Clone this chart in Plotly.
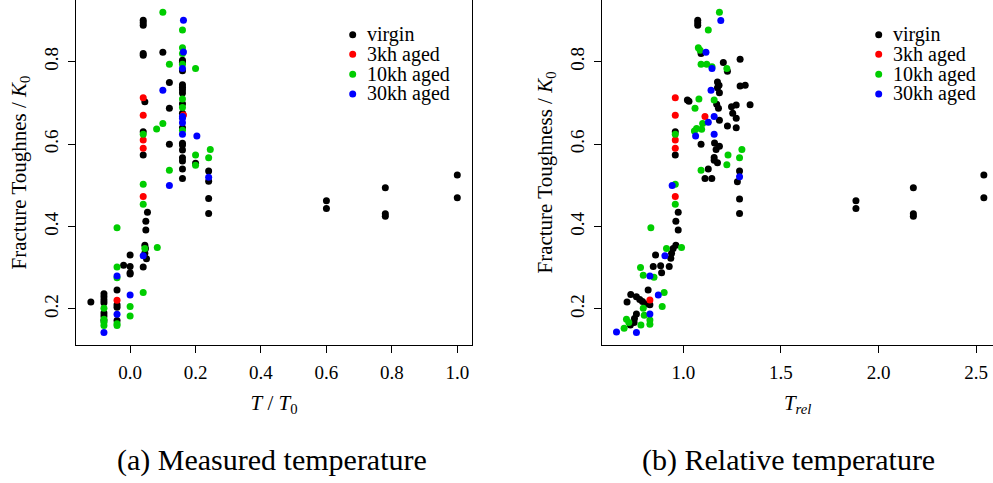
import plotly.graph_objects as go

# ---------------- data ----------------
SERIES = ["virgin", "3kh aged", "10kh aged", "30kh aged"]
COLORS = ["#000000", "#FF0000", "#00CD00", "#0000FF"]

# panel (a): measured temperature T/T0
A_VIRGIN_X = [-0.12,
              -0.08, -0.08, -0.08, -0.08, -0.08, -0.08, -0.08,
              -0.04, -0.04, -0.04, -0.04,
              -0.02,
              0.0, 0.0, 0.0, 0.0,
              0.04, 0.04, 0.04, 0.04, 0.04, 0.04, 0.04, 0.04,
              0.045, 0.045, 0.045,
              0.053, 0.048, 0.048, 0.047, 0.05,
              0.10,
              0.12, 0.12, 0.12,
              0.16, 0.16, 0.16, 0.16, 0.16, 0.16, 0.16, 0.16, 0.16, 0.16, 0.16, 0.16, 0.16, 0.16, 0.16, 0.16, 0.16,
              0.20,
              0.24, 0.24, 0.24, 0.24,
              0.60, 0.60, 0.78, 0.78, 0.78, 1.0, 1.0]
A_VIRGIN_Y = [0.217,
              0.237, 0.230, 0.222, 0.215, 0.190, 0.183, 0.172,
              0.246, 0.210, 0.204, 0.172,
              0.306,
              0.331, 0.303, 0.288, 0.285,
              0.901, 0.895, 0.889, 0.820, 0.816, 0.630, 0.574, 0.302,
              0.703, 0.335, 0.355,
              0.435, 0.413, 0.392, 0.347, 0.322,
              0.823,
              0.750, 0.687, 0.600,
              0.804, 0.799, 0.778, 0.744, 0.738, 0.732, 0.724, 0.698, 0.675, 0.640, 0.602, 0.598, 0.586, 0.567, 0.559, 0.540, 0.517,
              0.554,
              0.535, 0.510, 0.468, 0.432,
              0.463, 0.444, 0.494, 0.431, 0.425, 0.525, 0.470]
A_3KH_X = [-0.04, 0.04, 0.04, 0.04, 0.04, 0.04, 0.163]
A_3KH_Y = [0.221, 0.713, 0.670, 0.610, 0.590, 0.473, 0.671]
A_10KH_X = [-0.08, -0.08, -0.08, -0.08,
            -0.04, -0.04, -0.04, -0.04, -0.04,
            0.0, 0.0,
            0.04, 0.04, 0.04, 0.04,
            0.045,
            0.081, 0.083,
            0.10, 0.10,
            0.12, 0.12,
            0.16, 0.16, 0.16, 0.16, 0.16, 0.16, 0.16,
            0.20, 0.20, 0.20,
            0.245, 0.24]
A_10KH_Y = [0.202, 0.175, 0.168, 0.160,
            0.397, 0.302, 0.276, 0.164, 0.160,
            0.206, 0.183,
            0.624, 0.503, 0.454, 0.240,
            0.347,
            0.637, 0.349,
            0.920, 0.650,
            0.794, 0.537,
            0.877, 0.834, 0.820, 0.794, 0.710, 0.689, 0.634,
            0.784, 0.574, 0.549,
            0.587, 0.567]
A_30KH_X = [-0.08, -0.04, -0.04, 0.0, 0.04, 0.10, 0.12,
            0.163, 0.163, 0.16, 0.16, 0.16, 0.16, 0.16, 0.204, 0.24]
A_30KH_Y = [0.143, 0.280, 0.187, 0.234, 0.329, 0.731, 0.500,
            0.901, 0.824, 0.784, 0.667, 0.663, 0.652, 0.624, 0.620, 0.520]

# panel (b): relative temperature T_rel
B_VIRGIN_X = [1.074, 1.074, 1.074, 1.091, 1.205, 1.291, 1.226, 1.175, 1.183, 1.175,
              1.185, 1.291, 1.317, 1.021, 1.029, 1.171, 1.180, 1.247, 1.271, 1.342,
              1.253, 1.271, 1.185, 1.226, 1.271, 0.959, 0.959, 1.091, 1.160, 1.185,
              1.168, 1.158, 1.158, 1.175, 1.128, 1.111, 1.146, 1.288, 1.277, 1.288,
              1.288, 0.974, 0.962, 0.974, 0.962, 0.948, 0.940, 0.936, 0.858, 0.846,
              0.884, 0.928, 0.889, 0.820, 0.731, 0.712, 0.760, 0.777, 0.791, 0.808,
              0.829, 0.760, 0.750, 0.748, 0.729,
              1.884, 1.884, 2.178, 2.178, 2.178, 2.539, 2.539]
B_VIRGIN_Y = [0.901, 0.895, 0.889, 0.820, 0.798, 0.806, 0.777, 0.751, 0.743, 0.737,
              0.725, 0.741, 0.743, 0.707, 0.704, 0.697, 0.687, 0.691, 0.695, 0.696,
              0.675, 0.663, 0.658, 0.644, 0.640, 0.630, 0.574, 0.600, 0.603, 0.595,
              0.587, 0.568, 0.561, 0.555, 0.540, 0.517, 0.517, 0.535, 0.509, 0.467,
              0.432, 0.435, 0.413, 0.392, 0.355, 0.347, 0.335, 0.323, 0.331, 0.303,
              0.305, 0.303, 0.288, 0.246, 0.235, 0.217, 0.230, 0.223, 0.218, 0.212,
              0.210, 0.188, 0.177, 0.167, 0.161,
              0.463, 0.444, 0.494, 0.431, 0.425, 0.525, 0.470]
B_3KH_X = [0.959, 0.959, 1.111, 0.959, 0.959, 0.959, 0.829]
B_3KH_Y = [0.713, 0.670, 0.667, 0.610, 0.590, 0.473, 0.222]
B_10KH_X = [1.185, 1.128, 1.077, 1.086, 1.091, 1.120, 1.147, 1.223, 1.080, 1.060,
            1.158, 1.099, 1.068, 1.094, 1.057, 0.959, 1.229, 1.223, 1.288, 1.300,
            1.091, 0.959, 0.959, 0.834, 0.914, 0.991, 0.781, 0.795, 0.850, 0.902,
            0.892, 0.795, 0.709, 0.721, 0.697, 0.783, 0.829, 0.829, 0.800]
B_10KH_Y = [0.920, 0.877, 0.834, 0.828, 0.794, 0.794, 0.788, 0.784, 0.710, 0.687,
            0.707, 0.650, 0.638, 0.636, 0.632, 0.624, 0.574, 0.550, 0.567, 0.587,
            0.537, 0.503, 0.454, 0.397, 0.347, 0.349, 0.301, 0.282, 0.277, 0.240,
            0.206, 0.202, 0.175, 0.167, 0.153, 0.161, 0.173, 0.163, 0.185]
B_30KH_X = [1.192, 1.116, 1.147, 1.142, 1.158, 1.128, 1.063, 1.158, 1.288, 0.943,
            0.906, 0.829, 0.872, 0.829, 0.658, 0.760]
B_30KH_Y = [0.900, 0.823, 0.784, 0.731, 0.667, 0.653, 0.620, 0.624, 0.521, 0.500,
            0.329, 0.280, 0.234, 0.188, 0.144, 0.143]

A_X = [A_VIRGIN_X, A_3KH_X, A_10KH_X, A_30KH_X]
A_Y = [A_VIRGIN_Y, A_3KH_Y, A_10KH_Y, A_30KH_Y]
B_X = [B_VIRGIN_X, B_3KH_X, B_10KH_X, B_30KH_X]
B_Y = [B_VIRGIN_Y, B_3KH_Y, B_10KH_Y, B_30KH_Y]

A_XTICKS = [0.0, 0.2, 0.4, 0.6, 0.8, 1.0]
B_XTICKS = [1.0, 1.5, 2.0, 2.5]
YTICKS = [0.2, 0.4, 0.6, 0.8]

# ---------------- figure ----------------
W, H = 993, 483
FONT = "Liberation Serif"

fig = go.Figure()
for i, name in enumerate(SERIES):
    fig.add_trace(go.Scatter(x=A_X[i], y=A_Y[i], mode="markers", name=name,
                             marker=dict(size=7, color=COLORS[i], line=dict(width=0)),
                             xaxis="x", yaxis="y", showlegend=False))
for i, name in enumerate(SERIES):
    fig.add_trace(go.Scatter(x=B_X[i], y=B_Y[i], mode="markers", name=name,
                             marker=dict(size=7, color=COLORS[i], line=dict(width=0)),
                             xaxis="x2", yaxis="y2", showlegend=False))

# pixel geometry of the two plot boxes
A_LEFT, A_RIGHT = 76.3, 471.7
B_LEFT = 602.3
BOTTOM = 345.0

common_axis = dict(showline=True, linecolor="black", linewidth=1, ticks="outside",
                   ticklen=7, tickwidth=1, tickcolor="black", showgrid=False,
                   zeroline=False, tickfont=dict(family=FONT, size=19, color="black"),
                   ticklabelstandoff=3)

fig.update_layout(
    width=W, height=H,
    margin=dict(l=0, r=0, t=0, b=0),
    paper_bgcolor="white", plot_bgcolor="white",
    showlegend=False,
    xaxis=dict(common_axis, domain=[A_LEFT / W, A_RIGHT / W], range=[-0.1645, 1.044],
               tickvals=A_XTICKS, ticktext=[f"{v:.1f}" for v in A_XTICKS], mirror=True,
               anchor="y",
               title=dict(text="<i>T</i> / <i>T</i><sub>0</sub>", standoff=13,
                          font=dict(family=FONT, size=21, color="black"))),
    yaxis=dict(common_axis, domain=[(H - BOTTOM) / H, 1], range=[0.1126, 0.95],
               tickvals=YTICKS, ticktext=[f"{v:.1f}" for v in YTICKS], mirror=True,
               tickangle=-90, anchor="x",
               title=dict(text="Fracture Toughnes / <i>K</i><sub>0</sub>", standoff=8,
                          font=dict(family=FONT, size=21, color="black"))),
    xaxis2=dict(common_axis, domain=[B_LEFT / W, 1], range=[0.5853, 2.5858],
                tickvals=B_XTICKS, ticktext=[f"{v:.1f}" for v in B_XTICKS], mirror=True,
                anchor="y2",
                title=dict(text="<i>T</i><sub><i>rel</i></sub>", standoff=13,
                           font=dict(family=FONT, size=21, color="black"))),
    yaxis2=dict(common_axis, domain=[(H - BOTTOM) / H, 1], range=[0.1126, 0.95],
                tickvals=YTICKS, ticktext=[f"{v:.1f}" for v in YTICKS], mirror=False,
                tickangle=-90, anchor="x2",
                title=dict(text="Fracture Toughness / <i>K</i><sub>0</sub>", standoff=8,
                           font=dict(family=FONT, size=21, color="black"))),
)

# legends drawn inside each panel (dot + label)
LEG_ROWS = [34.7, 54.3, 74.3, 94.0]
for dot_x in (352.7, 878.7):
    for i, name in enumerate(SERIES):
        fig.add_shape(type="circle", xref="paper", yref="paper",
                      xsizemode="pixel", ysizemode="pixel",
                      xanchor=dot_x / W, yanchor=1 - LEG_ROWS[i] / H,
                      x0=-3.5, x1=3.5, y0=-3.5, y1=3.5,
                      fillcolor=COLORS[i], line=dict(width=0))
        fig.add_annotation(x=(dot_x + 12) / W, y=1 - LEG_ROWS[i] / H, xref="paper", yref="paper",
                           text=name, showarrow=False, xanchor="left", yanchor="middle",
                           font=dict(family=FONT, size=20, color="black"))

# sub-captions
fig.add_annotation(x=272 / W, y=1 - 460 / H, xref="paper", yref="paper",
                   text="(a) Measured temperature", showarrow=False,
                   xanchor="center", yanchor="middle",
                   font=dict(family=FONT, size=30, color="black"))
fig.add_annotation(x=788 / W, y=1 - 460 / H, xref="paper", yref="paper",
                   text="(b) Relative temperature", showarrow=False,
                   xanchor="center", yanchor="middle",
                   font=dict(family=FONT, size=30, color="black"))

fig.write_html("out.html")
